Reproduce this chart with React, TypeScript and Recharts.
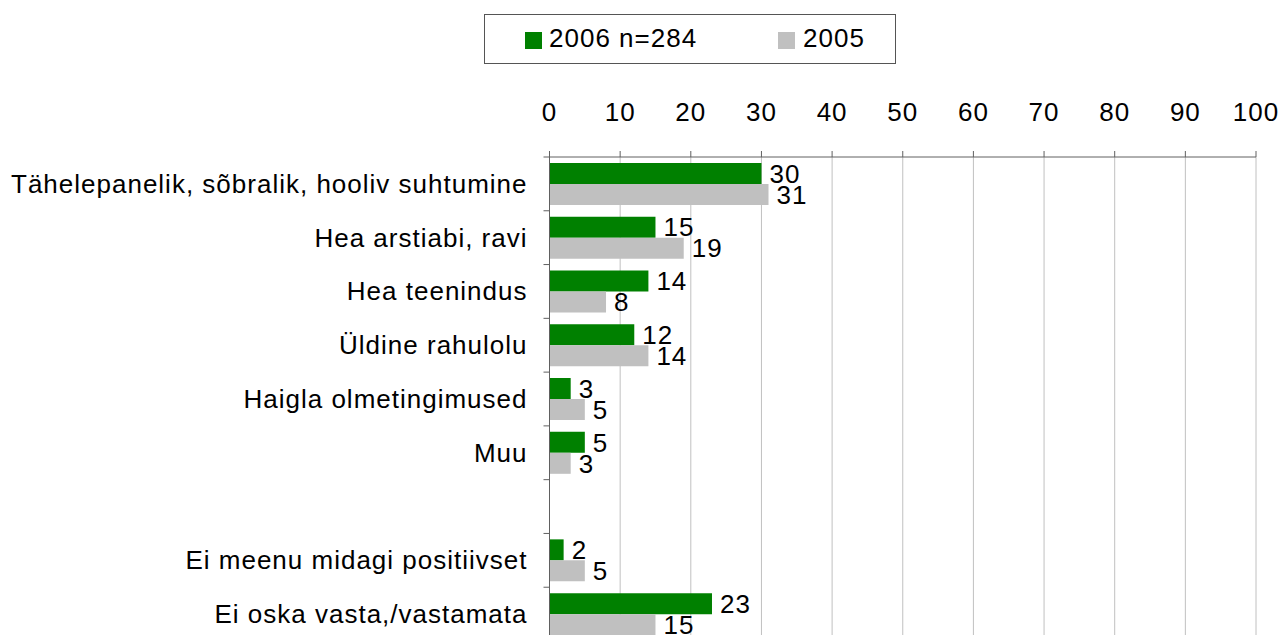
import React from "react";
import {
  BarChart,
  Bar,
  XAxis,
  YAxis,
  CartesianGrid,
  LabelList,
} from "recharts";

// Kategooriad (tühi rida on vahe)
const CATEGORIES: string[] = [
  "Tähelepanelik, sõbralik, hooliv suhtumine",
  "Hea arstiabi, ravi",
  "Hea teenindus",
  "Üldine rahulolu",
  "Haigla olmetingimused",
  "Muu",
  "",
  "Ei meenu midagi positiivset",
  "Ei oska vasta,/vastamata",
];

const VALUES_2006: (number | null)[] = [30, 15, 14, 12, 3, 5, null, 2, 23];
const VALUES_2005: (number | null)[] = [31, 19, 8, 14, 5, 3, null, 5, 15];

const X_TICKS: number[] = [0, 10, 20, 30, 40, 50, 60, 70, 80, 90, 100];

const SERIES_NAMES = { y2006: "2006 n=284", y2005: "2005" };

const GREEN = "#008000";
const GREY = "#c0c0c0";
const AXIS = "#606060";
const FONT = "'Liberation Sans', Arial, sans-serif";
const FS = 26;
const LS = 1;

const W = 1283;
const H = 641;
const TOP = 157;
const LEFT = 549.5;
const RIGHT = 27;
const BAND = (H - TOP) / CATEGORIES.length;

const data = CATEGORIES.map((name, i) => ({
  name,
  y2006: VALUES_2006[i],
  y2005: VALUES_2005[i],
}));

const XTick = (props: any) => {
  const { x, y, payload } = props;
  return (
    <text
      x={x}
      y={y - 30}
      textAnchor="middle"
      fontSize={FS}
      fontFamily={FONT}
      letterSpacing={LS}
      fill="#000"
    >
      {payload.value}
    </text>
  );
};

const YTick = (props: any) => {
  const { y, payload, index } = props;
  const top = y - BAND / 2;
  return (
    <g>
      <line x1={LEFT - 6} x2={LEFT} y1={top} y2={top} stroke={AXIS} />
      {index === CATEGORIES.length - 1 && (
        <line
          x1={LEFT - 6}
          x2={LEFT}
          y1={top + BAND}
          y2={top + BAND}
          stroke={AXIS}
        />
      )}
      <text
        x={LEFT - 22}
        y={y}
        textAnchor="end"
        dominantBaseline="central"
        fontSize={FS}
        fontFamily={FONT}
        letterSpacing={LS}
        fill="#000"
      >
        {payload.value}
      </text>
    </g>
  );
};

const fmt = (v: any) => (v === null || v === undefined ? "" : v);

const labelStyle = {
  fontSize: FS,
  fontFamily: FONT,
  fill: "#000",
  letterSpacing: LS,
};

const Legend = () => (
  <div
    style={{
      position: "absolute",
      left: 484,
      top: 14,
      width: 410,
      height: 48,
      border: "1px solid #555",
      fontFamily: FONT,
      fontSize: FS,
      letterSpacing: LS,
      color: "#000",
      background: "#fff",
    }}
  >
    <div
      style={{
        position: "absolute",
        left: 40,
        top: 17,
        width: 17,
        height: 17,
        background: GREEN,
      }}
    />
    <span style={{ position: "absolute", left: 64, top: 8, lineHeight: "30px" }}>
      {SERIES_NAMES.y2006}
    </span>
    <div
      style={{
        position: "absolute",
        left: 293,
        top: 17,
        width: 17,
        height: 17,
        background: GREY,
      }}
    />
    <span style={{ position: "absolute", left: 318, top: 8, lineHeight: "30px" }}>
      {SERIES_NAMES.y2005}
    </span>
  </div>
);

export default function App() {
  return (
    <div
      style={{
        position: "absolute",
        left: 0,
        top: 0,
        width: W,
        height: 635,
        overflow: "hidden",
        background: "#fff",
      }}
    >
      <Legend />
      <BarChart
        width={W}
        height={H}
        data={data}
        layout="vertical"
        margin={{ top: 0, right: RIGHT, bottom: 0, left: 0 }}
        barCategoryGap="11%"
        barGap={0}
      >
        <CartesianGrid horizontal={false} vertical={true} stroke={GREY} />
        <XAxis
          type="number"
          orientation="top"
          domain={[0, 100]}
          ticks={X_TICKS}
          height={TOP}
          tickSize={6}
          tickMargin={0}
          stroke={AXIS}
          tickLine={{ stroke: AXIS }}
          tick={<XTick />}
          interval={0}
        />
        <YAxis
          type="category"
          dataKey="name"
          width={LEFT}
          stroke={AXIS}
          tickLine={false}
          tick={<YTick />}
          interval={0}
        />
        <Bar dataKey="y2006" fill={GREEN} isAnimationActive={false}>
          <LabelList
            dataKey="y2006"
            position="right"
            offset={8}
            formatter={fmt}
            style={labelStyle}
          />
        </Bar>
        <Bar dataKey="y2005" fill={GREY} isAnimationActive={false}>
          <LabelList
            dataKey="y2005"
            position="right"
            offset={8}
            formatter={fmt}
            style={labelStyle}
          />
        </Bar>
      </BarChart>
    </div>
  );
}
